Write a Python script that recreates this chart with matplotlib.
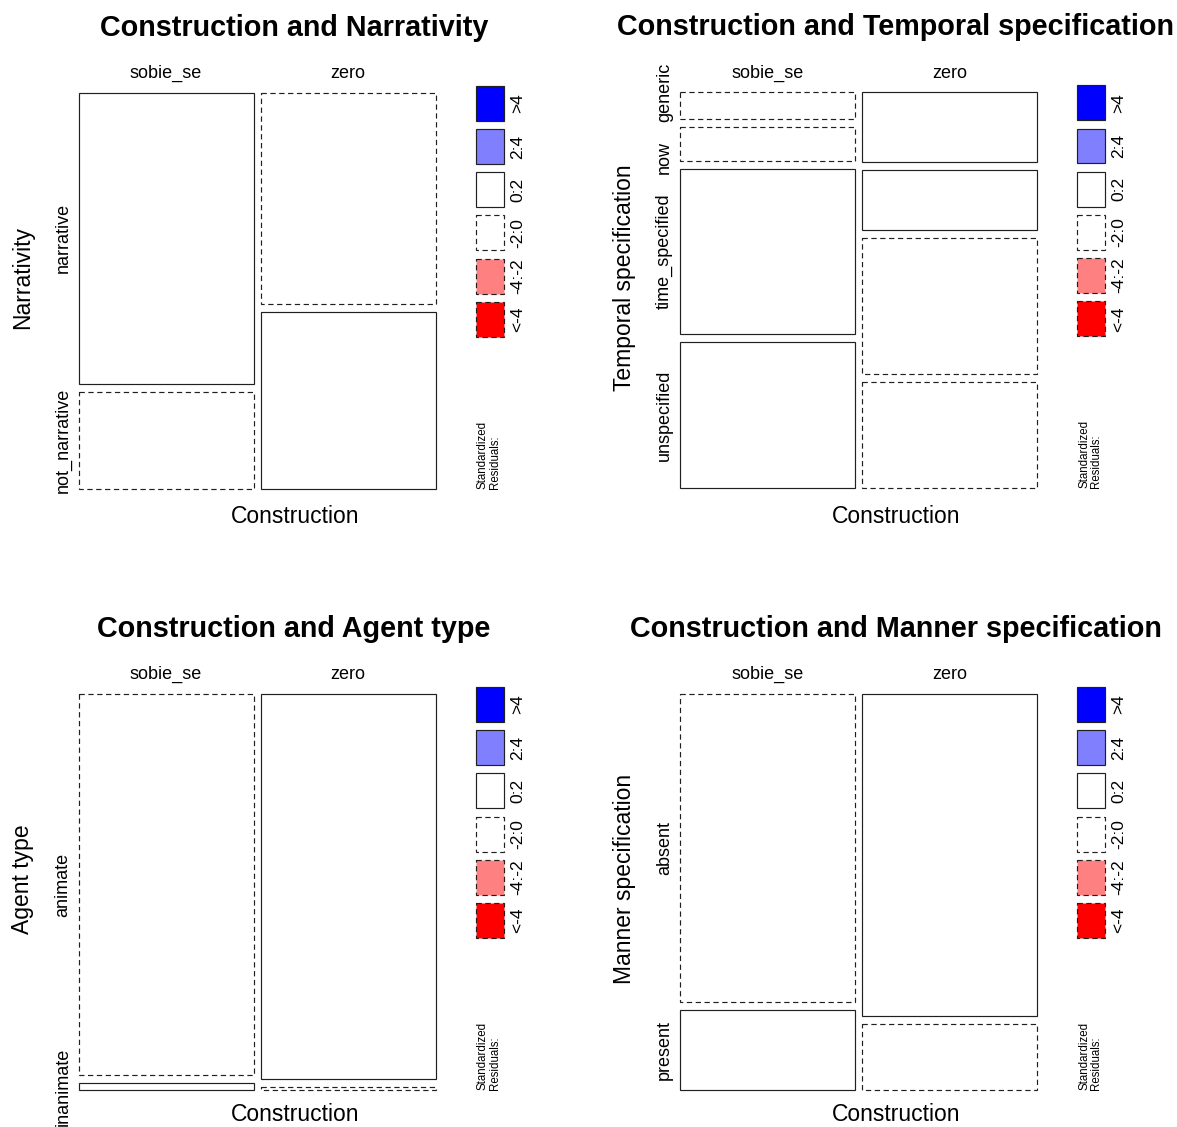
import matplotlib
import matplotlib.pyplot as plt
from matplotlib.patches import Rectangle

matplotlib.use("Agg")
plt.rcParams["font.family"] = ["Liberation Sans", "DejaVu Sans"]

# Figure size in pixels (dpi 100)
W, H = 1177, 1127

# ---- data (shares within each construction) ----
construction = ["sobie_se", "zero"]
construction_share = [0.5, 0.5]

narrativity_levels = ["narrative", "not_narrative"]
narrativity_sobie_se = [0.750, 0.250]
narrativity_zero = [0.545, 0.455]
narrativity_resid_sobie_se = [1.1, -1.6]
narrativity_resid_zero = [-1.1, 1.6]

temporal_levels = ["generic", "now", "time_specified", "unspecified"]
temporal_sobie_se = [0.073, 0.089, 0.446, 0.392]
temporal_zero = [0.188, 0.161, 0.366, 0.285]
temporal_resid_sobie_se = [-1.5, -1.0, 0.6, 0.8]
temporal_resid_zero = [1.5, 1.0, -0.6, -0.8]

agent_levels = ["animate", "inanimate"]
agent_sobie_se = [0.983, 0.017]
agent_zero = [0.991, 0.009]
agent_resid_sobie_se = [-0.1, 0.6]
agent_resid_zero = [0.1, -0.6]

manner_levels = ["absent", "present"]
manner_sobie_se = [0.795, 0.205]
manner_zero = [0.830, 0.170]
manner_resid_sobie_se = [-0.3, 0.6]
manner_resid_zero = [0.3, -0.6]

legend_labels = [">4", "2:4", "0:2", "-2:0", "-4:-2", "<-4"]

# ---- styling ----
SHADE_COLORS = ["#0000FF", "#8080FF", "#FFFFFF", "#FFFFFF", "#FF8080", "#FF0000"]
SHADE_DASHED = [False, False, False, True, True, True]
DASH = (0, (4.5, 3))
LW = 0.85

MOS_W, MOS_H = 357.0, 396.0  # mosaic area in px
GAP_X, GAP_Y = 7.0, 8.0


def shade_index(r):
    if r > 4:
        return 0
    if r > 2:
        return 1
    if r > 0:
        return 2
    if r > -2:
        return 3
    if r > -4:
        return 4
    return 5


def fx(x):
    return x / W


def fy(y):
    return 1 - y / H


fig = plt.figure(figsize=(W / 100, H / 100), dpi=100)
fig.patch.set_facecolor("white")


def spread(centers, halves, pad):
    # push neighbouring level labels apart until they no longer overlap
    c = list(centers)
    for _ in range(100):
        moved = False
        for k in range(len(c) - 1):
            need = halves[k] + halves[k + 1] + pad
            gap = c[k + 1] - c[k]
            if gap < need - 1e-6:
                d = (need - gap) / 2
                c[k] -= d
                c[k + 1] += d
                moved = True
        if not moved:
            break
    return c


def draw_panel(left, top, title, ylabel, levels, shares, resids, xlab_off=430.5):
    ax = fig.add_axes([fx(left), fy(top + MOS_H), MOS_W / W, MOS_H / H])
    ax.set_xlim(0, 1)
    ax.set_ylim(1, 0)
    ax.axis("off")

    gx = GAP_X / MOS_W
    gy = GAP_Y / MOS_H
    usable_w = 1 - gx * (len(construction) - 1)
    tot_w = sum(construction_share)
    x = 0.0
    first_centers = []
    for j, name in enumerate(construction):
        w = construction_share[j] / tot_w * usable_w
        usable_h = 1 - gy * (len(levels) - 1)
        tot_h = sum(shares[j])
        y = 0.0
        for i, lev in enumerate(levels):
            h = shares[j][i] / tot_h * usable_h
            k = shade_index(resids[j][i])
            ax.add_patch(Rectangle((x, y), w, h, facecolor=SHADE_COLORS[k],
                                   edgecolor="#202020", lw=LW,
                                   linestyle=DASH if SHADE_DASHED[k] else "-",
                                   clip_on=False))
            if j == 0:
                first_centers.append(y + h / 2)
            y += h + gy
        fig.text(fx(left + (x + w / 2) * MOS_W), fy(top - 14.8), name,
                 ha="center", va="baseline", fontsize=13)
        x += w + gx

    # level labels on the left
    renderer = fig.canvas.get_renderer()
    txts = []
    for lev, c in zip(levels, first_centers):
        t = fig.text(fx(left - 15.5), fy(top + c * MOS_H), lev, rotation=90,
                     ha="center", va="center", fontsize=13)
        txts.append(t)
    halves = [t.get_window_extent(renderer).height / 2 for t in txts]
    centers = spread([top + c * MOS_H for c in first_centers], halves, 19)
    for t, c in zip(txts, centers):
        t.set_y(fy(c))

    # titles and axis labels
    fig.text(fx(left + 215.5), fy(top - 57), title, ha="center",
             va="baseline", fontsize=20.7, fontweight="bold")
    fig.text(fx(left + 216.5), fy(top + xlab_off), "Construction", ha="center",
             va="baseline", fontsize=16.5)
    fig.text(fx(left - 55.5), fy(top + 185), ylabel, rotation=90,
             ha="center", va="center", fontsize=16.5)

    # shading legend
    lax = fig.add_axes([fx(left + 397), fy(top - 7 + 251), 28 / W, 251 / H])
    lax.set_xlim(0, 1)
    lax.set_ylim(len(legend_labels) - 0.19, 0)
    lax.axis("off")
    for i, lab in enumerate(legend_labels):
        lax.add_patch(Rectangle((0, i), 1, 0.81, facecolor=SHADE_COLORS[i],
                                edgecolor="#202020", lw=LW,
                                linestyle=DASH if SHADE_DASHED[i] else "-",
                                clip_on=False))
        lax.text(1.5, i + 0.405, lab, rotation=90, ha="center", va="center",
                 fontsize=12.5)
    fig.text(fx(left + 410.5), fy(top + MOS_H), "Standardized\nResiduals:",
             rotation=90, ha="center", va="bottom", fontsize=8.3,
             multialignment="left", linespacing=1.0)


draw_panel(78.5, 92.8, "Construction and Narrativity", "Narrativity",
           narrativity_levels,
           [narrativity_sobie_se, narrativity_zero],
           [narrativity_resid_sobie_se, narrativity_resid_zero])
draw_panel(680.0, 92.3, "Construction and Temporal specification",
           "Temporal specification", temporal_levels,
           [temporal_sobie_se, temporal_zero],
           [temporal_resid_sobie_se, temporal_resid_zero])
draw_panel(78.5, 694.0, "Construction and Agent type", "Agent type",
           agent_levels,
           [agent_sobie_se, agent_zero],
           [agent_resid_sobie_se, agent_resid_zero], xlab_off=427.0)
draw_panel(680.0, 694.0, "Construction and Manner specification",
           "Manner specification", manner_levels,
           [manner_sobie_se, manner_zero],
           [manner_resid_sobie_se, manner_resid_zero], xlab_off=427.0)

fig.savefig("out.png", dpi=100, facecolor="white")
plt.close(fig)
